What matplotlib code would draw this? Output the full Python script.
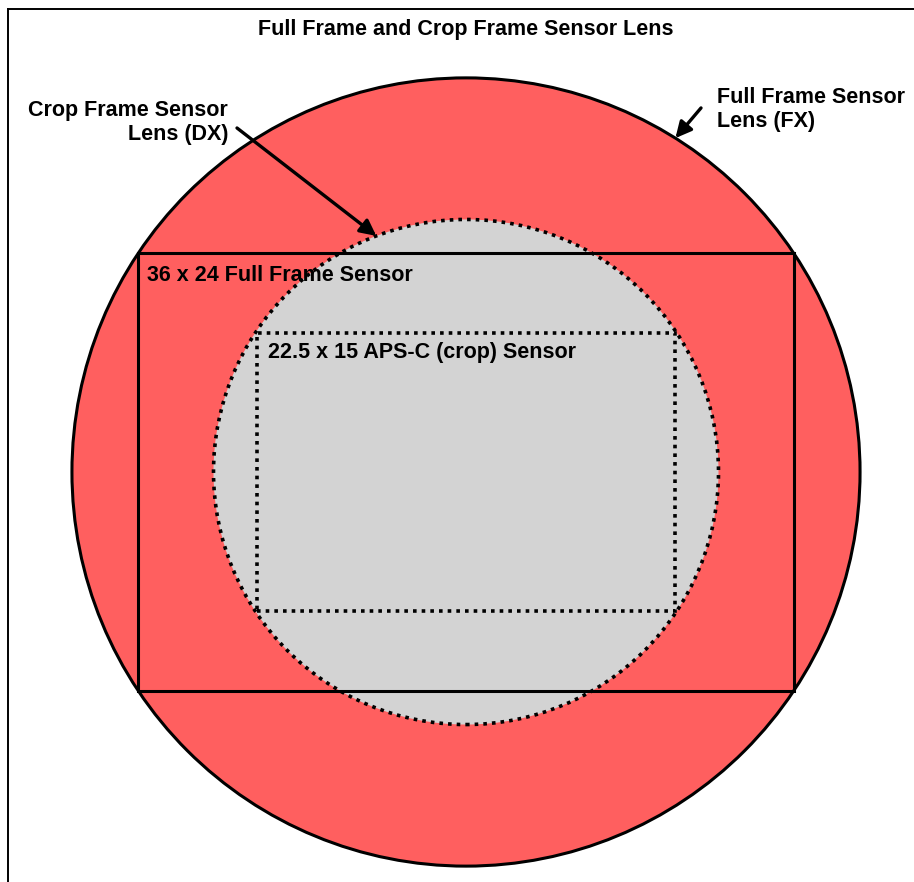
import matplotlib.pyplot as plt
from matplotlib.patches import Circle, Rectangle
import numpy as np

plt.rcParams['font.family'] = ['Liberation Sans', 'DejaVu Sans']

# sensor sizes in mm (width, height) and lens image circle radii in mm
sensor_names  = ["36 x 24 Full Frame Sensor", "22.5 x 15 APS-C (crop) Sensor"]
sensor_w      = [36.0, 22.9]
sensor_h      = [24.0, 15.3]
lens_names    = ["Full Frame Sensor\nLens (FX)", "Crop Frame Sensor\nLens (DX)"]
lens_radius   = [21.63, 13.86]
title         = "Full Frame and Crop Frame Sensor Lens"

# ------------------------------------------------------------------
fig = plt.figure(figsize=(9.14, 8.82), dpi=100)
ax = fig.add_axes([8/914, 1 - 9/882 - 926/882, 916/914, 926/882])
ax.set_xlim(-25.14, 25.14)
ax.set_ylim(-25.41, 25.41)
ax.set_xticks([])
ax.set_yticks([])
for s in ax.spines.values():
    s.set_linewidth(1.4)

red  = '#ff5f5f'
grey = '#d3d3d3'

# lens circles
ax.add_patch(Circle((0, 0), lens_radius[0], facecolor=red, edgecolor='black', lw=2.2, zorder=1))
ax.add_patch(Circle((0, 0), lens_radius[1], facecolor=grey, edgecolor='black', lw=2.6,
                    linestyle=(0, (1, 1.4)), zorder=2))

# sensors
ax.add_patch(Rectangle((-sensor_w[0]/2, -sensor_h[0]/2), sensor_w[0], sensor_h[0],
                       fill=False, edgecolor='black', lw=2.2, zorder=3))
ax.add_patch(Rectangle((-sensor_w[1]/2, -sensor_h[1]/2), sensor_w[1], sensor_h[1],
                       fill=False, edgecolor='black', lw=2.6, linestyle=(0, (1, 1.4)), zorder=3))

fs = 15.5
ax.text(0, 24.26, title, ha='center', va='center', fontsize=fs, fontweight='bold', zorder=5)
ax.text(-17.51, 10.48, sensor_names[0], ha='left', va='baseline', fontsize=fs, fontweight='bold', zorder=5)
ax.text(-10.87, 6.26, sensor_names[1], ha='left', va='baseline', fontsize=fs, fontweight='bold', zorder=5)

# multi-line labels: baseline here is the last line
ax.text(13.78, 18.94, lens_names[0], ha='left', va='baseline', fontsize=fs,
        fontweight='bold', linespacing=1.2, zorder=5)
ax.text(-13.06, 18.22, lens_names[1], ha='right', va='baseline', fontsize=fs,
        fontweight='bold', linespacing=1.2, zorder=5)

# arrows pointing at the circle edges
ang_fx = np.deg2rad(57.9)
ang_dx = np.deg2rad(110.8)
arrow = dict(arrowstyle='-|>', lw=2.4, color='black', mutation_scale=24, shrinkA=0, shrinkB=0)
ax.annotate('', xy=(lens_radius[0]*np.cos(ang_fx), lens_radius[0]*np.sin(ang_fx)),
            xytext=(12.90, 19.98), arrowprops=arrow, zorder=6)
ax.annotate('', xy=(lens_radius[1]*np.cos(ang_dx), lens_radius[1]*np.sin(ang_dx)),
            xytext=(-12.57, 18.88), arrowprops=arrow, zorder=6)

fig.savefig('out.png', dpi=100)
